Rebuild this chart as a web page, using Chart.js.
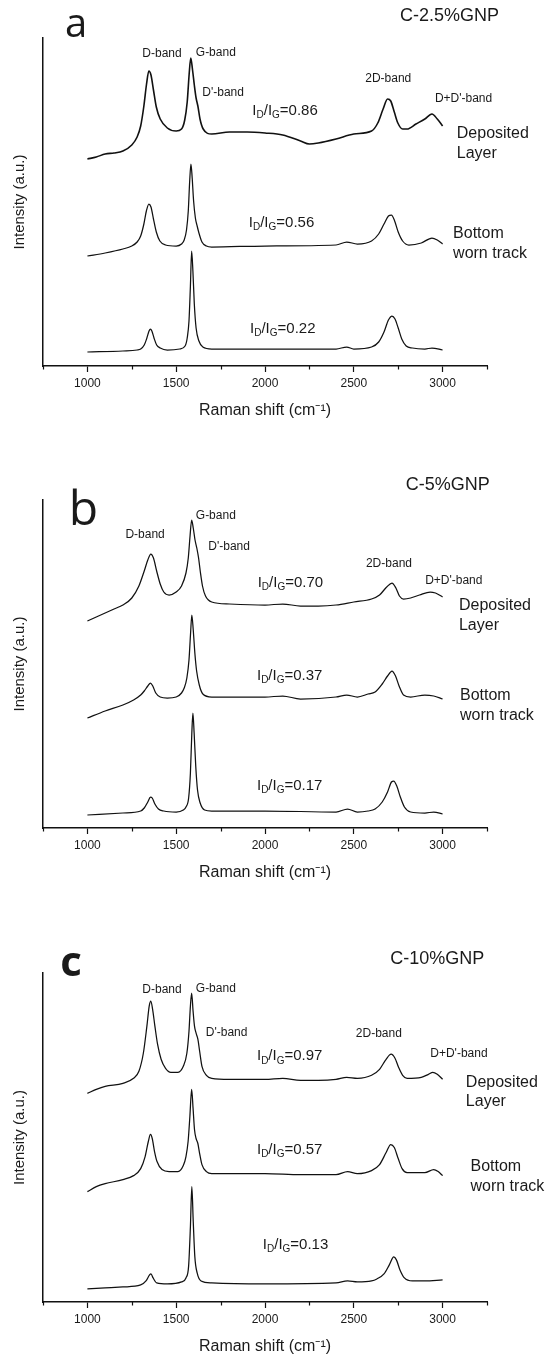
<!DOCTYPE html>
<html>
<head>
<meta charset="utf-8">
<script src="https://cdn.jsdelivr.net/npm/chart.js@4.4.0/dist/chart.umd.min.js"></script>
<style>
  html, body { margin: 0; padding: 0; background: #fff; }
  #wrap { position: relative; width: 549px; height: 1358px; }
  canvas { position: absolute; left: 0; }
</style>
</head>
<body>
<div id="wrap">
  <canvas id="chartA" width="549" height="450" style="top:0px"></canvas>
  <canvas id="chartB" width="549" height="450" style="top:450px"></canvas>
  <canvas id="chartC" width="549" height="458" style="top:900px"></canvas>
</div>
<script>
// --- data (Raman shift cm-1, intensity a.u. with offsets as plotted) ---
const shiftLabels = [1000, 1500, 2000, 2500, 3000];
const compositions = ['C-2.5%GNP', 'C-5%GNP', 'C-10%GNP'];
const panelLetters = ['a', 'b', 'c'];
const bandNames = ['D-band', 'G-band', "D'-band", '2D-band', "D+D'-band"];
const sampleNames = [['Deposited', 'Layer'], ['Bottom', 'worn track']];
const ratiosA = ['0.86', '0.56', '0.22'];
const ratiosB = ['0.70', '0.37', '0.17'];
const ratiosC = ['0.97', '0.57', '0.13'];

const depositedA = [[1000,207],[1050,209],[1100,212],[1150,213],[1200,215],[1250,221],[1280,229],[1300,240],[1318,260],[1333,282],[1346,295],[1358,291],[1372,276],[1388,259],[1410,247],[1450,238],[1500,235],[1530,237],[1548,246],[1562,264],[1573,292],[1582,308],[1592,296],[1602,281],[1612,268],[1622,260],[1634,247],[1652,237],[1700,232],[1800,234],[1900,234],[2000,233],[2100,231],[2200,225],[2250,222],[2300,223],[2400,227],[2500,232],[2600,235],[2635,243],[2665,257],[2690,267],[2708,265],[2728,254],[2748,243],[2775,237],[2800,237],[2850,242],[2900,247],[2940,252],[2970,247],[3000,240]];
const bottomA = [[1000,110],[1100,113],[1200,117],[1250,120],[1280,124],[1300,130],[1318,142],[1332,155],[1346,162],[1358,159],[1372,147],[1388,134],[1408,125],[1440,121],[1500,120],[1530,122],[1545,126],[1558,136],[1568,155],[1576,185],[1583,202],[1590,188],[1598,165],[1608,148],[1618,140],[1628,133],[1645,124],[1670,120],[1700,119],[2000,120],[2400,121],[2460,124],[2520,122],[2600,125],[2640,132],[2670,142],[2695,150],[2712,151],[2730,145],[2750,134],[2775,125],[2810,121],[2880,123],[2940,128],[2970,126],[3000,122]];
const surfaceA = [[1000,14],[1200,15],[1280,16],[1300,17],[1320,21],[1335,28],[1347,35],[1355,37],[1363,35],[1375,28],[1390,21],[1410,18],[1450,16],[1520,17],[1550,20],[1562,28],[1572,45],[1580,80],[1587,115],[1594,95],[1602,62],[1612,38],[1628,25],[1650,19],[1700,17],[2000,17],[2400,17],[2460,19],[2500,17],[2600,19],[2640,24],[2670,34],[2695,46],[2715,50],[2732,47],[2750,38],[2770,27],[2795,20],[2830,18],[2900,17],[2940,18],[3000,16]];

const depositedB = [[1000,207],[1050,211],[1100,215],[1150,219],[1200,223],[1250,230],[1290,242],[1320,257],[1340,268],[1357,274],[1372,270],[1390,257],[1410,244],[1430,236],[1460,233],[1500,236],[1530,242],[1555,255],[1568,270],[1578,292],[1587,308],[1596,300],[1606,288],[1616,280],[1626,270],[1636,256],[1648,242],[1665,232],[1700,226],[1800,224],[2000,223],[2100,224],[2200,222],[2300,222],[2400,223],[2500,226],[2600,229],[2645,233],[2685,241],[2715,245],[2737,240],[2757,232],[2780,229],[2820,230],[2870,233],[2930,236],[2960,235],[3000,231]];
const bottomB = [[1000,110],[1100,117],[1200,123],[1260,128],[1300,133],[1320,137],[1340,142],[1355,145],[1368,142],[1385,135],[1410,131],[1450,130],[1500,131],[1530,135],[1545,140],[1560,150],[1572,168],[1581,195],[1588,213],[1596,198],[1605,175],[1615,157],[1630,143],[1650,134],[1700,131],[2000,131],[2100,132],[2200,129],[2400,131],[2460,133],[2520,131],[2580,134],[2620,136],[2660,144],[2690,152],[2715,157],[2735,152],[2755,142],[2780,133],[2820,131],[2900,133],[2950,132],[3000,129]];
const surfaceB = [[1000,13],[1200,15],[1300,17],[1320,20],[1340,26],[1355,31],[1365,30],[1380,24],[1400,19],[1430,17],[1500,16],[1540,18],[1555,21],[1570,30],[1580,55],[1588,95],[1594,115],[1601,95],[1610,62],[1620,38],[1635,25],[1660,18],[1700,17],[2000,17],[2400,16],[2465,19],[2520,16],[2580,17],[2620,19],[2660,26],[2690,36],[2712,46],[2725,47],[2742,42],[2762,31],[2785,21],[2820,16],[2900,15],[2950,16],[3000,14]];

const depositedC = [[1000,208],[1050,212],[1100,215],[1200,218],[1260,223],[1290,230],[1315,248],[1335,275],[1348,295],[1357,300],[1367,292],[1380,275],[1395,257],[1415,242],[1440,233],[1470,229],[1510,229],[1540,235],[1560,248],[1572,270],[1580,295],[1587,308],[1595,290],[1603,275],[1612,268],[1622,262],[1632,250],[1645,235],[1670,226],[1700,223],[1800,222],[2000,222],[2100,223],[2200,221],[2300,221],[2400,222],[2460,224],[2520,223],[2600,226],[2645,232],[2682,242],[2710,247],[2732,243],[2752,234],[2775,226],[2800,223],[2880,224],[2920,227],[2945,229],[2970,227],[3000,222]];
const bottomC = [[1000,110],[1050,115],[1100,118],[1200,122],[1260,126],[1300,133],[1325,145],[1343,160],[1355,167],[1365,163],[1378,150],[1392,140],[1420,132],[1460,130],[1510,130],[1540,136],[1555,145],[1567,160],[1577,185],[1587,212],[1595,193],[1603,172],[1612,163],[1622,158],[1632,148],[1645,137],[1670,130],[1700,128],[2000,128],[2200,127],[2400,127],[2465,130],[2520,128],[2600,131],[2645,137],[2682,149],[2708,157],[2728,154],[2750,143],[2772,133],[2800,129],[2900,129],[2950,132],[2975,130],[3000,126]];
const surfaceC = [[1000,13],[1100,14],[1200,15],[1300,17],[1330,21],[1350,27],[1358,28],[1370,24],[1390,19],[1450,18],[1530,20],[1555,24],[1570,36],[1580,75],[1588,115],[1596,80],[1605,45],[1618,29],[1640,21],[1700,19],[2000,18],[2400,19],[2465,21],[2520,20],[2600,21],[2630,23],[2670,28],[2700,37],[2725,45],[2740,42],[2760,32],[2785,24],[2830,21],[2900,21],[3000,22]];

const FONT = '"Liberation Sans", Arial, sans-serif';
const INK = '#1a1a1a';

// labels drawn at data coordinates through the chart scales
function notesPlugin(notes) {
  return {
    id: 'notes',
    afterDraw(chart) {
      const { ctx, scales: { x, y } } = chart;
      ctx.save();
      ctx.fillStyle = INK;
      // minor x ticks (shorter)
      ctx.strokeStyle = '#111';
      ctx.lineWidth = 1.2;
      x.ticks.forEach(t => {
        if (t.value % 500 !== 0) {
          const px = Math.round(x.getPixelForValue(t.value)) + 0.5;
          ctx.beginPath();
          ctx.moveTo(px, x.top);
          ctx.lineTo(px, x.top + 3.5);
          ctx.stroke();
        }
      });
      notes.forEach(n => {
        const px = x.getPixelForValue(n.x);
        const py = y.getPixelForValue(n.y);
        if (n.ratio) {
          drawRatio(ctx, px, py, n.ratio, 15);
          return;
        }
        ctx.font = (n.weight || '') + ' ' + n.size + 'px ' + (n.family || FONT);
        ctx.textAlign = n.align || 'center';
        ctx.textBaseline = n.baseline || 'middle';
        ctx.fillText(n.text, px, py);
      });
      ctx.restore();
    }
  };
}

function drawRatio(ctx, cx, cy, value, size) {
  const sub = Math.round(size * 0.68);
  const parts = [['I', size, 0], ['D', sub, 0.3], ['/I', size, 0], ['G', sub, 0.3], ['=' + value, size, 0]];
  let total = 0;
  parts.forEach(p => { ctx.font = p[1] + 'px ' + FONT; total += ctx.measureText(p[0]).width; });
  let px = cx - total / 2;
  ctx.textAlign = 'left';
  ctx.textBaseline = 'middle';
  parts.forEach(p => {
    ctx.font = p[1] + 'px ' + FONT;
    ctx.fillText(p[0], px, cy + p[2] * size);
    px += ctx.measureText(p[0]).width;
  });
}

function buildNotes(pos, ratios, idx) {
  const notes = [];
  bandNames.forEach((b, i) => notes.push({ text: b, x: pos.bands[i][0], y: pos.bands[i][1], size: 12 }));
  ratios.forEach((r, i) => notes.push({ ratio: r, x: pos.ratios[i][0], y: pos.ratios[i][1] }));
  sampleNames.forEach((lines, i) => lines.forEach((l, j) =>
    notes.push({ text: l, x: pos.samples[i][0], y: pos.samples[i][1] - j * 19.5, size: 16, align: 'left' })));
  notes.push({ text: compositions[idx], x: pos.title[0], y: pos.title[1], size: 18 });
  notes.push({ text: panelLetters[idx], x: pos.letter[0], y: pos.letter[1], size: pos.letter[2],
    family: '"Open Sans", sans-serif', weight: pos.letter[3], baseline: 'alphabetic' });
  return notes;
}

function buildChart(id, series, notes, pad) {
  return new Chart(document.getElementById(id), {
    type: 'line',
    data: {
      datasets: series.map((s, i) => ({
        data: s,
        borderColor: '#111',
        borderWidth: i === 0 && id === 'chartA' ? 1.6 : 1.25,
        pointRadius: 0,
        fill: false,
        cubicInterpolationMode: 'monotone'
      }))
    },
    options: {
      responsive: false,
      animation: false,
      layout: { padding: { top: pad.top, right: 62, bottom: pad.bottom, left: 0 } },
      plugins: { legend: { display: false }, tooltip: { enabled: false } },
      scales: {
        x: {
          type: 'linear',
          min: 750,
          max: 3250,
          afterFit: s => { s.height = 54; },
          ticks: {
            stepSize: 250,
            autoSkip: false,
            maxRotation: 0,
            padding: 4,
            color: INK,
            font: { family: FONT, size: 12 },
            callback: v => shiftLabels.includes(v) ? String(v) : ''
          },
          grid: {
            drawOnChartArea: false,
            tickLength: 6,
            tickWidth: 1.2,
            tickColor: c => (c.tick && c.tick.value % 500 === 0) ? '#111' : 'rgba(0,0,0,0)'
          },
          border: { color: '#111', width: 1.5 },
          title: {
            display: true,
            text: 'Raman shift (cm⁻¹)',
            color: INK,
            font: { family: FONT, size: 16 },
            padding: { top: 0, bottom: 0 }
          }
        },
        y: {
          min: 0,
          max: 328,
          afterFit: s => { s.width = 43; },
          ticks: { display: false },
          grid: { display: false },
          border: { color: '#111', width: 1.5 },
          title: {
            display: true,
            text: 'Intensity (a.u.)',
            color: INK,
            font: { family: FONT, size: 15 },
            padding: { top: 11, bottom: 0 }
          }
        }
      }
    },
    plugins: [notesPlugin(notes)]
  });
}

const notesA = buildNotes({
  bands: [[1420, 312], [1723, 313], [1764, 273], [2694, 287], [3118, 267]],
  ratios: [[2113, 255], [2093, 143], [2100, 37]],
  samples: [[3080, 232], [3059, 132]],
  title: [3039, 350],
  letter: [936, 329, 40, '']
}, ratiosA, 0);
const notesB = buildNotes({
  bands: [[1325, 293], [1723, 312], [1798, 281], [2698, 264], [3063, 247]],
  ratios: [[2143, 245], [2139, 152], [2139, 42]],
  samples: [[3092, 222], [3098, 132]],
  title: [3029, 343],
  letter: [978, 303, 48, '']
}, ratiosB, 1);
const notesC = buildNotes({
  bands: [[1420, 311], [1723, 312], [1784, 268], [2641, 267], [3092, 248]],
  ratios: [[2139, 245], [2139, 152], [2172, 57]],
  samples: [[3131, 219], [3157, 135]],
  title: [2970, 342],
  letter: [908, 325, 42, 'bold']
}, ratiosC, 2);

buildChart('chartA', [depositedA, bottomA, surfaceA], notesA, { top: 38, bottom: 30 });
buildChart('chartB', [depositedB, bottomB, surfaceB], notesB, { top: 50, bottom: 18 });
buildChart('chartC', [depositedC, bottomC, surfaceC], notesC, { top: 73, bottom: 2 });
</script>
</body>
</html>
